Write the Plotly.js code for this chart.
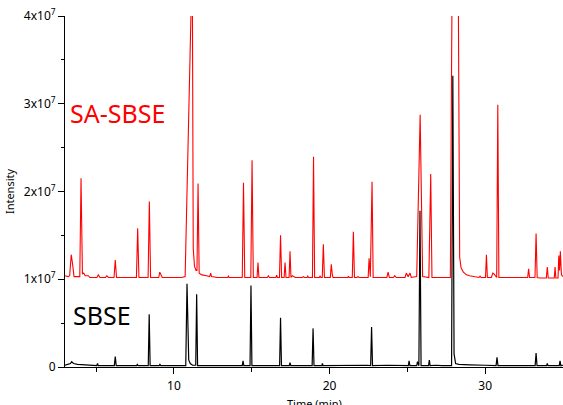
<!DOCTYPE html>
<html>
<head>
<meta charset="utf-8">
<script src="https://cdn.plot.ly/plotly-3.0.1.min.js"></script>
<style>html,body{margin:0;padding:0;background:#fff;}#chart{width:563px;height:405px;}</style>
</head>
<body>
<div id="chart"></div>
<script>
// Retention time (min) and intensity (in units of 10^7 counts)
const saSbseTime = [3.0,3.2,3.3,3.40,3.49,3.58,3.95,4.03,4.12,4.2,4.3,4.5,4.6,5.05,5.14,5.25,5.6,5.68,5.8,6.15,6.23,6.31,7.0,7.59,7.67,7.75,8.34,8.42,8.50,9.02,9.09,9.17,9.25,9.5,10.0,10.5,10.72,11.07,11.13,11.19,11.24,11.32,11.42,11.48,11.55,11.62,11.8,12.1,12.3,12.36,12.42,12.8,13.45,13.5,13.55,14.0,14.39,14.47,14.55,14.94,15.02,15.10,15.34,15.40,15.46,16.0,16.07,16.14,16.55,16.6,16.65,16.78,16.85,16.92,17.08,17.14,17.20,17.40,17.46,17.52,17.61,17.8,18.25,18.31,18.4,18.55,18.6,18.65,18.90,18.97,19.04,19.35,19.39,19.45,19.53,19.60,19.67,20.05,20.11,20.18,20.22,20.5,21.0,21.17,21.21,21.26,21.46,21.53,21.60,21.75,21.83,21.9,22.1,22.48,22.54,22.62,22.73,22.80,23.2,23.68,23.76,23.84,24.1,24.19,24.28,24.85,24.93,25.05,25.17,25.25,25.6,25.82,25.98,26.38,26.50,26.58,26.8,27.2,27.5,27.76,27.86,27.9,28.2,28.28,28.36,28.45,28.6,28.8,29.0,29.3,29.6,29.67,29.74,30.02,30.08,30.14,30.4,30.49,30.57,30.74,30.81,30.88,31.5,32.0,32.4,32.73,32.79,32.85,33.20,33.27,33.34,33.5,33.93,33.99,34.05,34.44,34.49,34.54,34.68,34.73,34.78,34.83,34.9,35.0];
const saSbseInt  = [1.04,1.03,1.04,1.28,1.17,1.03,1.03,2.15,1.06,1.07,1.04,1.04,1.02,1.02,1.05,1.02,1.02,1.04,1.02,1.02,1.22,1.02,1.02,1.02,1.58,1.02,1.02,1.885,1.02,1.02,1.08,1.05,1.02,1.02,1.02,1.02,1.03,4.0,4.3,4.0,1.35,1.15,1.10,1.10,2.09,1.07,1.05,1.04,1.03,1.07,1.03,1.02,1.02,1.035,1.02,1.02,1.02,2.10,1.02,1.02,2.355,1.02,1.02,1.19,1.02,1.02,1.04,1.02,1.02,1.045,1.02,1.02,1.50,1.02,1.02,1.19,1.02,1.02,1.32,1.02,1.04,1.02,1.02,1.03,1.02,1.02,1.035,1.02,1.02,2.395,1.02,1.02,1.035,1.02,1.02,1.40,1.02,1.02,1.17,1.05,1.02,1.02,1.02,1.02,1.035,1.02,1.02,1.54,1.02,1.02,1.03,1.02,1.02,1.02,1.24,1.03,2.11,1.02,1.02,1.02,1.08,1.02,1.02,1.04,1.02,1.02,1.07,1.03,1.07,1.02,1.03,2.875,1.03,1.02,2.20,1.02,1.02,1.02,1.02,1.02,4.0,4.6,4.6,4.0,1.25,1.13,1.08,1.05,1.04,1.03,1.02,1.035,1.02,1.02,1.28,1.02,1.02,1.07,1.06,1.02,2.99,1.02,1.02,1.02,1.02,1.02,1.12,1.02,1.02,1.52,1.02,1.015,1.015,1.14,1.015,1.015,1.14,1.015,1.015,1.27,1.10,1.32,1.05,1.03];

const sbseTime = [3.0,3.2,3.35,3.43,3.55,3.8,4.2,4.6,5.04,5.09,5.14,5.6,6.17,6.23,6.29,7.6,7.65,7.7,8.35,8.41,8.47,9.05,9.1,9.15,10.0,10.76,10.84,10.9,10.95,11.05,11.2,11.4,11.46,11.52,12.5,14.39,14.44,14.49,14.89,14.95,15.01,16.0,16.79,16.85,16.91,17.41,17.46,17.51,18.3,18.88,18.94,19.00,19.5,19.54,19.58,21.53,21.85,22.4,22.64,22.70,22.76,23.76,25.06,25.11,25.16,25.6,25.65,25.7,25.74,25.81,25.88,26.36,26.41,26.46,26.85,27.2,27.84,27.92,28.0,28.1,28.3,29.0,29.4,30.0,30.70,30.76,30.82,31.5,32.5,33.21,33.27,33.33,33.94,33.99,34.04,34.76,34.81,34.86,35.0];
const sbseInt  = [0.02,0.03,0.04,0.06,0.04,0.03,0.025,0.02,0.015,0.04,0.015,0.015,0.015,0.118,0.015,0.015,0.03,0.015,0.015,0.60,0.015,0.015,0.03,0.015,0.015,0.015,0.95,0.17,0.08,0.04,0.02,0.02,0.83,0.015,0.015,0.015,0.07,0.015,0.015,0.93,0.015,0.015,0.015,0.56,0.015,0.015,0.05,0.015,0.02,0.015,0.44,0.015,0.015,0.04,0.015,0.02,0.025,0.02,0.015,0.455,0.015,0.02,0.015,0.07,0.015,0.015,0.06,0.015,0.015,1.78,0.015,0.015,0.08,0.015,0.02,0.015,0.015,3.32,0.15,0.04,0.03,0.025,0.02,0.02,0.015,0.11,0.015,0.015,0.015,0.015,0.16,0.015,0.015,0.04,0.015,0.015,0.07,0.015,0.02];

const yTickVals = [0,1,2,3,4];
const yTickText = ["0","1x10<sup>7</sup>","2x10<sup>7</sup>","3x10<sup>7</sup>","4x10<sup>7</sup>"];
const yMinorVals = [0.5,1.5,2.5,3.5];
const xTickVals = [10,20,30];
const xMinorVals = [5,15,25,35];
const seriesLabels = ["SA-SBSE","SBSE"];
const xTitle = "Time (min)";
const yTitle = "Intensity";

const font = "Noto Sans, DejaVu Sans, sans-serif";

const traces = [
  {x: saSbseTime, y: saSbseInt, type:'scatter', mode:'lines', line:{color:'#ff0000', width:1.1}, name:seriesLabels[0], hoverinfo:'skip'},
  {x: sbseTime, y: sbseInt, type:'scatter', mode:'lines', line:{color:'#000000', width:1.2}, name:seriesLabels[1], hoverinfo:'skip'}
];

const layout = {
  width:563, height:405,
  margin:{l:65, r:0, t:16, b:38, pad:0},
  paper_bgcolor:'#ffffff', plot_bgcolor:'#ffffff',
  showlegend:false,
  font:{family:font, size:11, color:'#000'},
  xaxis:{
    range:[3,35], showgrid:false, zeroline:false,
    showline:true, linecolor:'#000', linewidth:1,
    ticks:'outside', ticklen:6, tickwidth:1, tickcolor:'#000',
    tickmode:'array', tickvals:xTickVals, ticktext:xTickVals.map(String),
    tickfont:{size:12}, ticklabelstandoff:2,
    minor:{tickmode:'array', tickvals:xMinorVals, ticks:'outside', ticklen:4, tickcolor:'#000', showgrid:false}
  },
  yaxis:{
    range:[0,4], showgrid:false, zeroline:false,
    showline:true, linecolor:'#000', linewidth:1,
    ticks:'outside', ticklen:6, tickwidth:1, tickcolor:'#000',
    tickmode:'array', tickvals:yTickVals, ticktext:yTickText,
    tickfont:{size:12},
    minor:{tickmode:'array', tickvals:yMinorVals, ticks:'outside', ticklen:3, tickcolor:'#000', showgrid:false},
    title:{text:yTitle, font:{size:11}, standoff:6}
  },
  annotations:[
    {xref:'paper', yref:'paper', x:0.006, y:0.7236, xanchor:'left', yanchor:'middle', text:seriesLabels[0], showarrow:false, font:{family:font, size:25, color:'#ff0000'}},
    {xref:'paper', yref:'paper', x:0.012, y:0.148, xanchor:'left', yanchor:'middle', text:seriesLabels[1], showarrow:false, font:{family:font, size:25, color:'#000000'}},
    {xref:'paper', yref:'paper', x:0.5, y:-0.1026, xanchor:'center', yanchor:'middle', text:xTitle, showarrow:false, font:{family:font, size:11, color:'#000000'}}
  ]
};

Plotly.newPlot('chart', traces, layout, {staticPlot:true, displayModeBar:false});
</script>
</body>
</html>
